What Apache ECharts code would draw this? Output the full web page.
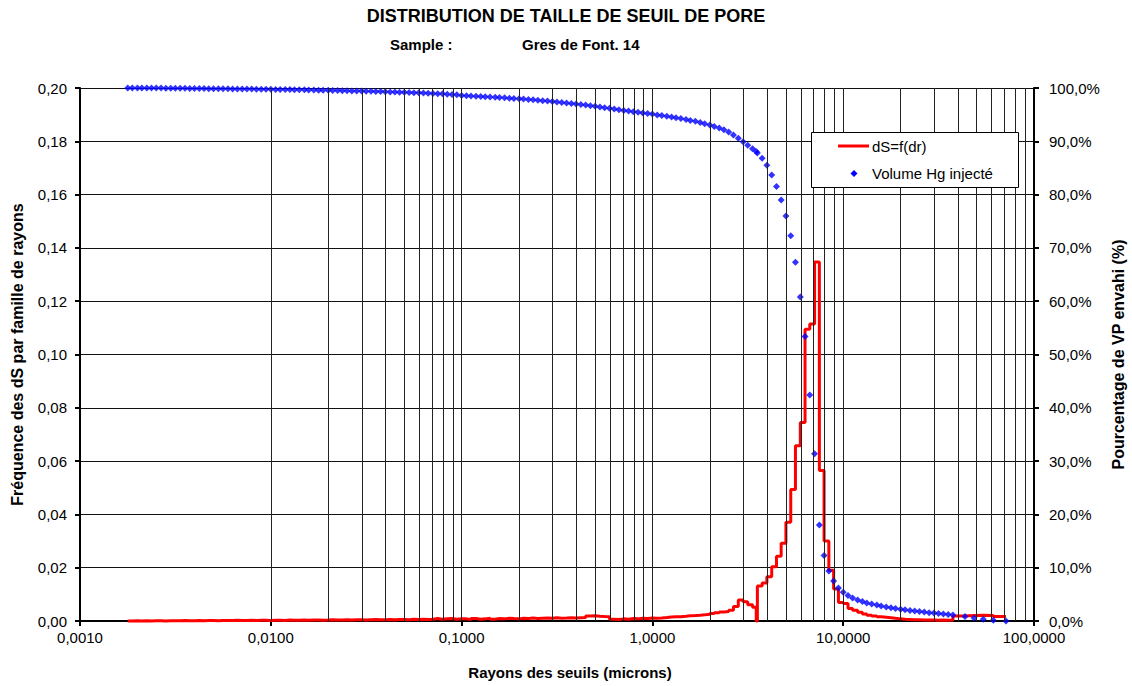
<!DOCTYPE html>
<html>
<head>
<meta charset="utf-8">
<title>Distribution de taille de seuil de pore</title>
<script src="https://cdn.jsdelivr.net/npm/echarts@6/dist/echarts.min.js"></script>
<style>
  html, body { margin: 0; padding: 0; background: #ffffff; }
  #chart { width: 1132px; height: 686px; }
</style>
</head>
<body>
<div id="chart"></div>
<script>
// Rayons des seuils (microns), du plus petit au plus grand
const rayons = [
  // 0,001 - 0,01
  0.00178, 0.00188, 0.00200, 0.00211, 0.00224, 0.00237, 0.00251, 0.00266, 0.00282, 0.00299,
  0.00316, 0.00335, 0.00355, 0.00376, 0.00398, 0.00422, 0.00447, 0.00473, 0.00501, 0.00531,
  0.00562, 0.00596, 0.00631, 0.00668, 0.00708, 0.00750, 0.00794, 0.00841, 0.00891, 0.00944,
  // 0,01 - 0,1
  0.0100, 0.0106, 0.0112, 0.0119, 0.0126, 0.0133, 0.0141, 0.0150, 0.0158, 0.0168,
  0.0178, 0.0188, 0.0200, 0.0211, 0.0224, 0.0237, 0.0251, 0.0266, 0.0282, 0.0299,
  0.0316, 0.0335, 0.0355, 0.0376, 0.0398, 0.0422, 0.0447, 0.0473, 0.0501, 0.0531,
  0.0562, 0.0596, 0.0631, 0.0668, 0.0708, 0.0750, 0.0794, 0.0841, 0.0891, 0.0944,
  // 0,1 - 1
  0.100, 0.106, 0.112, 0.119, 0.126, 0.133, 0.141, 0.150, 0.158, 0.168,
  0.178, 0.188, 0.200, 0.211, 0.224, 0.237, 0.251, 0.266, 0.282, 0.299,
  0.316, 0.335, 0.355, 0.376, 0.398, 0.422, 0.447, 0.473, 0.501, 0.531,
  0.562, 0.596, 0.631, 0.668, 0.708, 0.750, 0.794, 0.841, 0.891, 0.944,
  // 1 - 10
  1.00, 1.06, 1.12, 1.19, 1.26, 1.33, 1.41, 1.50, 1.58, 1.68,
  1.78, 1.88, 2.00, 2.11, 2.24, 2.37, 2.51, 2.66, 2.82, 2.99,
  3.16, 3.35, 3.50, 3.55, 3.76, 3.98, 4.22, 4.47, 4.73, 5.01,
  5.31, 5.62, 5.96, 6.31, 6.68, 7.08, 7.50, 7.94, 8.41, 8.91, 9.44,
  // 10 - 100
  10.0, 10.6, 11.2, 11.9, 12.6, 13.3, 14.1, 15.0, 15.8, 16.8,
  17.8, 18.8, 20.0, 21.1, 22.4, 23.7, 25.1, 26.6, 28.2, 29.9,
  31.6, 33.5, 35.5, 37.6, 43.5, 48.5, 54.2, 61.2, 71.3
];

// Volume de mercure injecté cumulé (% du volume poreux), un point par rayon
const volumeHg = [
  100.00, 100.00, 100.00, 100.00, 100.00, 99.99, 99.98, 99.98, 99.97, 99.96,
  99.95, 99.94, 99.93, 99.92, 99.91, 99.90, 99.89, 99.88, 99.87, 99.86,
  99.85, 99.84, 99.83, 99.82, 99.81, 99.80, 99.79, 99.78, 99.77, 99.76,

  99.75, 99.74, 99.72, 99.71, 99.70, 99.68, 99.67, 99.65, 99.63, 99.62,
  99.60, 99.58, 99.56, 99.54, 99.52, 99.50, 99.48, 99.46, 99.44, 99.42,
  99.40, 99.37, 99.35, 99.32, 99.30, 99.27, 99.24, 99.21, 99.18, 99.15,
  99.12, 99.09, 99.05, 99.02, 98.98, 98.94, 98.90, 98.85, 98.80, 98.74,

  98.60, 98.56, 98.50, 98.46, 98.42, 98.38, 98.33, 98.28, 98.23, 98.17,
  98.10, 98.04, 97.98, 97.92, 97.85, 97.78, 97.71, 97.63, 97.55, 97.47,
  97.38, 97.29, 97.20, 97.10, 97.00, 96.90, 96.79, 96.68, 96.56, 96.44,
  96.31, 96.18, 96.05, 95.92, 95.80, 95.67, 95.55, 95.44, 95.33, 95.22,

  95.10, 94.95, 94.82, 94.70, 94.57, 94.43, 94.28, 94.10, 93.92, 93.74,
  93.52, 93.30, 93.05, 92.78, 92.48, 92.15, 91.75, 91.20, 90.55, 89.90,
  89.25, 88.60, 88.10, 87.80, 86.80, 85.50, 83.70, 81.50, 79.00, 76.00,
  72.30, 67.30, 60.80, 53.40, 42.40, 31.40, 18.00, 12.30, 9.40, 7.50, 6.20,

  5.40, 4.80, 4.30, 3.95, 3.65, 3.40, 3.18, 2.98, 2.80, 2.63,
  2.48, 2.34, 2.21, 2.09, 1.98, 1.87, 1.77, 1.67, 1.57, 1.48,
  1.39, 1.30, 1.21, 1.12, 0.85, 0.55, 0.32, 0.15, 0.00
];

// Fréquence dS de chaque famille de rayons (valeur entre deux rayons successifs)
const dS = [
  0.0000, 0.0001, 0.0000, 0.0001, 0.0000, 0.0001, 0.0001, 0.0000, 0.0001, 0.0001,
  0.0001, 0.0002, 0.0001, 0.0001, 0.0002, 0.0001, 0.0002, 0.0002, 0.0001, 0.0002,
  0.0002, 0.0002, 0.0003, 0.0002, 0.0002, 0.0003, 0.0002, 0.0003, 0.0003, 0.0002,

  0.0003, 0.0003, 0.0002, 0.0004, 0.0003, 0.0003, 0.0004, 0.0003, 0.0004, 0.0004,
  0.0003, 0.0004, 0.0005, 0.0004, 0.0004, 0.0005, 0.0004, 0.0005, 0.0005, 0.0004,
  0.0005, 0.0006, 0.0005, 0.0005, 0.0006, 0.0005, 0.0006, 0.0006, 0.0005, 0.0007,
  0.0006, 0.0007, 0.0006, 0.0007, 0.0009, 0.0007, 0.0008, 0.0009, 0.0007, 0.0008,

  0.0008, 0.0006, 0.0009, 0.0007, 0.0008, 0.0010, 0.0007, 0.0009, 0.0008, 0.0010,
  0.0009, 0.0008, 0.0010, 0.0009, 0.0011, 0.0009, 0.0010, 0.0011, 0.0010, 0.0012,
  0.0010, 0.0011, 0.0012, 0.0011, 0.0012, 0.0013, 0.0019, 0.0020, 0.0018, 0.0017,
  0.0016, 0.0007, 0.0006, 0.0008, 0.0007, 0.0009, 0.0008, 0.0010, 0.0009, 0.0011,

  0.0010, 0.0011, 0.0013, 0.0015, 0.0016, 0.0016, 0.0018, 0.0020, 0.0021, 0.0022,
  0.0023, 0.0025, 0.0028, 0.0031, 0.0034, 0.0036, 0.0040, 0.0054, 0.0079, 0.0072,
  0.0061, 0.0052, 0.0000, 0.0131, 0.0143, 0.0166, 0.0204, 0.0243, 0.0292, 0.0371,
  0.0493, 0.0658, 0.0745, 0.1095, 0.1114, 0.1347, 0.0565, 0.0300, 0.0190, 0.0120, 0.0069,

  0.0066, 0.0047, 0.0040, 0.0033, 0.0026, 0.0022, 0.0019, 0.0016, 0.0014, 0.0012,
  0.0010, 0.0008, 0.0007, 0.0006, 0.0005, 0.0005, 0.0004, 0.0004, 0.0004, 0.0003,
  0.0004, 0.0003, 0.0004, 0.0019, 0.0021, 0.0022, 0.0021, 0.0017
];

// Graduations principales de l'axe des rayons (une par décade)
const graduationsX = [0.001, 0.01, 0.1, 1, 10, 100];
// Multiples utilisés pour le quadrillage logarithmique
const multiples = [1, 2, 3, 4, 5, 6, 7, 8, 9];

const nomDS = 'dS=f(dr)';
const nomHg = 'Volume Hg injecté';

const police = "'Liberation Sans', Arial, Helvetica, sans-serif";

// Lignes verticales du quadrillage : 1..9 x chaque décade, hors bords du tracé
const lignesVerticales = graduationsX.slice(0, -1)
  .flatMap(d => multiples.map(m => +(d * m).toPrecision(3)))
  .filter(v => v > graduationsX[0]);

// Courbe en escalier : chaque valeur s'applique du rayon i au rayon i+1
const courbeDS = rayons.map((r, i) => [r, dS[Math.min(i, dS.length - 1)]]);
const pointsHg = rayons.map((r, i) => [r, volumeHg[i]]);

const virgule = (v, n) => v.toFixed(n).replace('.', ',');

const chart = echarts.init(document.getElementById('chart'), null, { renderer: 'svg' });

// Cartouche de légende, posé au-dessus du quadrillage
const zLegende = 100;
const legende = [
  { type: 'rect', left: 811, top: 132, z: zLegende,
    shape: { x: 0.5, y: 0.5, width: 207, height: 55 },
    style: { fill: '#ffffff', stroke: '#000', lineWidth: 1 } },
  { type: 'line', x: 811, y: 132, z: zLegende + 1,
    shape: { x1: 27, y1: 14, x2: 58, y2: 14 },
    style: { stroke: '#ff0000', lineWidth: 3 } },
  { type: 'text', x: 872, y: 146, z: zLegende + 1,
    style: { text: nomDS, fill: '#000', font: '15px ' + police, verticalAlign: 'middle', textVerticalAlign: 'middle' } },
  { type: 'polygon', x: 811, y: 132, z: zLegende + 1,
    shape: { points: [[43, 38], [46.5, 41.5], [43, 45], [39.5, 41.5]] },
    style: { fill: '#0000ff' } },
  { type: 'text', x: 872, y: 173.5, z: zLegende + 1,
    style: { text: nomHg, fill: '#000', font: '15px ' + police, verticalAlign: 'middle', textVerticalAlign: 'middle' } }
];

const option = {
  animation: false,
  backgroundColor: '#ffffff',
  textStyle: { fontFamily: police, color: '#000' },
  title: [
    {
      text: 'DISTRIBUTION DE TAILLE DE SEUIL DE PORE',
      left: 'center', top: 7, padding: 0,
      textStyle: { fontFamily: police, fontSize: 18, fontWeight: 'bold', color: '#000' }
    },
    {
      text: 'Sample :',
      left: 390, top: 37, padding: 0,
      textStyle: { fontFamily: police, fontSize: 15, fontWeight: 'bold', color: '#000' }
    },
    {
      text: 'Gres de Font. 14',
      left: 522, top: 37, padding: 0,
      textStyle: { fontFamily: police, fontSize: 15, fontWeight: 'bold', color: '#000' }
    }
  ],
  grid: { left: 80, right: 98, top: 88, bottom: 65, containLabel: false, outerBoundsMode: 'none' },
  xAxis: {
    type: 'log',
    logBase: 10,
    min: graduationsX[0],
    max: graduationsX[graduationsX.length - 1],
    splitNumber: graduationsX.length - 1,
    name: 'Rayons des seuils (microns)',
    nameLocation: 'middle',
    nameGap: 44,
    nameTextStyle: { fontFamily: police, fontSize: 15, fontWeight: 'bold', color: '#000', padding: [0, 0, 0, 26] },
    axisLine: { show: true, onZero: false, lineStyle: { color: '#000', width: 2 } },
    axisTick: { show: true, inside: false, length: 5, lineStyle: { color: '#000', width: 2 } },
    axisLabel: {
      show: true, margin: 9, fontSize: 15, color: '#000', fontFamily: police,
      showMinLabel: true, showMaxLabel: true,
      formatter: v => virgule(v, 4)
    },
    splitLine: { show: false },
    minorTick: { show: false },
    minorSplitLine: { show: false }
  },
  yAxis: [
    {
      type: 'value',
      position: 'left',
      min: 0, max: 0.2, interval: 0.02,
      name: 'Fréquence des dS par famille de rayons',
      nameLocation: 'middle',
      nameRotate: 90,
      nameGap: 55,
      nameTextStyle: { fontFamily: police, fontSize: 16, fontWeight: 'bold', color: '#000' },
      axisLine: { show: true, onZero: false, lineStyle: { color: '#000', width: 2 } },
      axisTick: { show: true, inside: false, length: 5, lineStyle: { color: '#000', width: 2 } },
      axisLabel: { show: true, margin: 13, fontSize: 15, color: '#000', fontFamily: police, formatter: v => virgule(v, 2) },
      splitLine: { show: true, lineStyle: { color: '#111', width: 1 } }
    },
    {
      type: 'value',
      position: 'right',
      min: 0, max: 100, interval: 10,
      name: 'Pourcentage de VP envahi (%)',
      nameLocation: 'middle',
      nameRotate: 90,
      nameGap: 70,
      nameTextStyle: { fontFamily: police, fontSize: 16, fontWeight: 'bold', color: '#000' },
      axisLine: { show: true, onZero: false, lineStyle: { color: '#000', width: 2 } },
      axisTick: { show: true, inside: false, length: 5, lineStyle: { color: '#000', width: 2 } },
      axisLabel: { show: true, margin: 15, fontSize: 15, color: '#000', fontFamily: police, formatter: v => virgule(v, 1) + '%' },
      splitLine: { show: false }
    }
  ],
  series: [
    {
      // quadrillage vertical logarithmique
      type: 'line',
      name: 'quadrillage',
      data: [],
      silent: true,
      z: 1,
      markLine: {
        silent: true,
        symbol: ['none', 'none'],
        label: { show: false },
        emphasis: { disabled: true },
        lineStyle: { color: '#222', width: 1, type: 'solid' },
        data: lignesVerticales.map(v => ({ xAxis: v }))
      }
    },
    {
      type: 'line',
      name: nomDS,
      data: courbeDS,
      step: 'end',
      symbol: 'none',
      showSymbol: false,
      clip: false,
      lineStyle: { color: '#ff0000', width: 3 },
      itemStyle: { color: '#ff0000' },
      z: 3
    },
    {
      type: 'scatter',
      name: nomHg,
      yAxisIndex: 1,
      data: pointsHg,
      symbol: 'diamond',
      symbolSize: 7,
      itemStyle: { color: '#0000ff' },
      z: 4
    }
  ],
  graphic: { elements: legende }
};

chart.setOption(option);
</script>
</body>
</html>
